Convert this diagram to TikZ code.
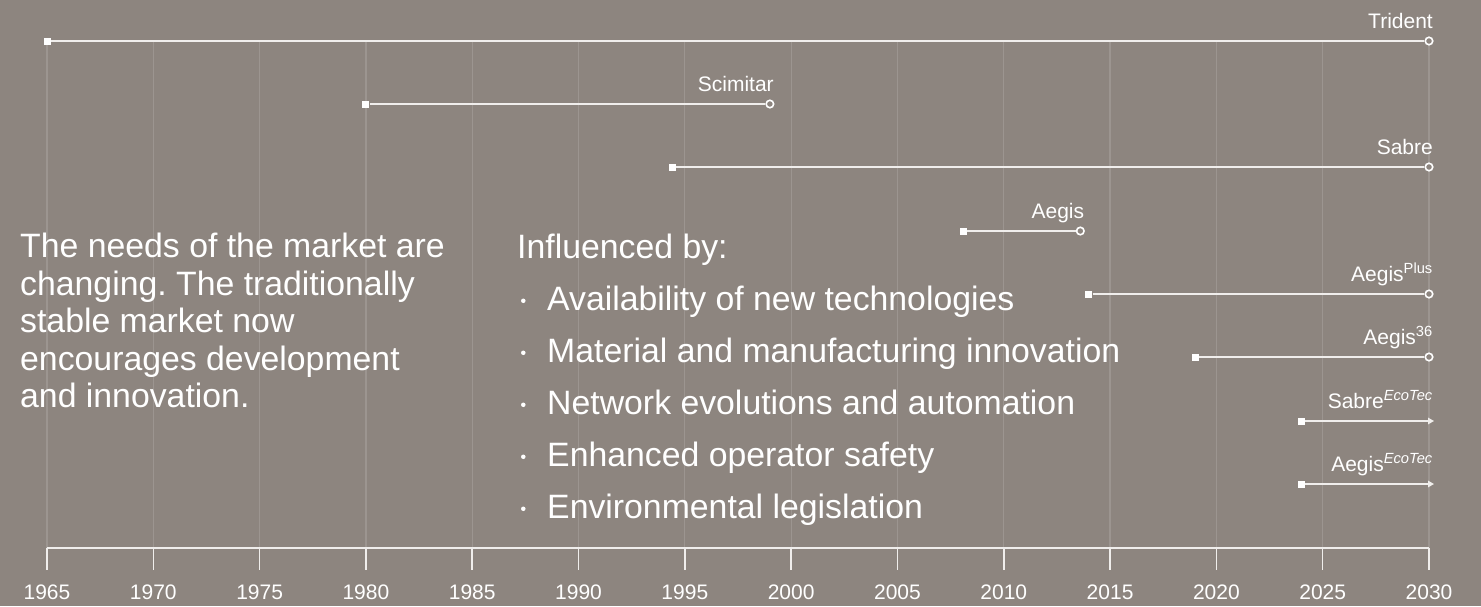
\documentclass[tikz,border=0pt]{standalone}
\usepackage{fontspec}
\setmainfont{Liberation Sans}
\usetikzlibrary{arrows.meta}
\frenchspacing

\definecolor{bgtaupe}{RGB}{141,133,127}
\definecolor{gridtaupe}{RGB}{156,149,144}
\definecolor{barwhite}{RGB}{240,238,236}

% x position (in px) of a year on the time axis
\newcommand{\yrx}[1]{(47+((#1)-1965)*21.2615)}

\begin{document}
\begin{tikzpicture}[x=1pt,y=-1pt]
\tikzstyle{gridline}=[draw=gridtaupe,line width=1.2pt]
\tikzstyle{barline}=[draw=barwhite,line width=1.3pt]
\tikzstyle{axisline}=[draw=barwhite,line width=1.5pt]
\tikzstyle{startmark}=[rectangle,fill=white,minimum size=7pt,inner sep=0pt]
\tikzstyle{endmark}=[circle,draw=white,fill=bgtaupe,line width=1.6pt,minimum size=7.5pt,inner sep=0pt]
\tikzstyle{dotmark}=[circle,fill=white,minimum size=4.5pt,inner sep=0pt]
\tikzstyle{barlabel}=[text=white,font=\fontsize{21}{24}\selectfont,anchor=base east,inner sep=0pt]
\tikzstyle{yearlabel}=[text=white,font=\fontsize{21}{24}\selectfont,anchor=base,inner sep=0pt]
\tikzstyle{bodytext}=[text=white,font=\fontsize{33.8}{40}\selectfont,anchor=base west,inner sep=0pt]

\useasboundingbox (0,0) rectangle (1481,606);
\fill[bgtaupe] (0,0) rectangle (1481,606);

% grid, axis and years
\foreach \yr in {1965,1970,...,2030}
{
   \coordinate (grid\yr) at ({\yrx{\yr}},41);
   \coordinate (tick\yr) at ({\yrx{\yr}},548);
   \coordinate (tickend\yr) at ({\yrx{\yr}},570);
   \draw[gridline] (grid\yr) -- (tick\yr);
   \draw[axisline] (tick\yr) -- (tickend\yr);
   \node[yearlabel] (year\yr) at ({\yrx{\yr}},599) {\yr};
}
\draw[axisline] (tick1965) -- (tick2030);

% product bars
\foreach \nm/\from/\to/\row/\txt in {trident/1965/2030/41/Trident,
  scimitar/1980/1999/104/Scimitar,
  sabre/1994.4/2030/167/Sabre,
  aegis/2008.1/2013.6/231/Aegis,
  aegisplus/2014/2030/294/Aegis\textsuperscript{Plus},
  aegisthirtysix/2019/2030/357/Aegis\textsuperscript{36}}
{
   \node[startmark] (\nm-start) at ({\yrx{\from}},\row) {};
   \node[endmark] (\nm-end) at ({\yrx{\to}},\row) {};
   \draw[barline] (\nm-start) -- (\nm-end);
   \node[barlabel] (\nm-label) at ([xshift=4pt,yshift=13pt]\nm-end.center) {\txt};
}
\foreach \nm/\row/\txt in {sabreeco/421/Sabre\textsuperscript{\itshape EcoTec},
  aegiseco/484/Aegis\textsuperscript{\itshape EcoTec}}
{
   \node[startmark] (\nm-start) at ({\yrx{2024}},\row) {};
   \coordinate (\nm-end) at (1434,\row);
   \draw[barline,-{Triangle[length=6pt,width=6.5pt]}] (\nm-start) -- (\nm-end);
   \node[barlabel] (\nm-label) at ([xshift=-1pt,yshift=13pt]\nm-end) {\txt};
}

% text
\foreach \ln [count=\i] in {The needs of the market are,changing. The traditionally,stable market now,encourages development,and innovation.}
{
   \node[bodytext] (intro\i) at (20,{257.7+(\i-1)*37.5}) {\ln};
}
\node[bodytext] (influence) at (517,258.3) {Influenced by:};
\foreach \txt [count=\i] in {Availability of new technologies,Material and manufacturing innovation,Network evolutions and automation,Enhanced operator safety,Environmental legislation}
{
   \node[dotmark] (bullet\i) at (523.3,{300.8+(\i-1)*52}) {};
   \node[bodytext] (item\i) at (547,{310.8+(\i-1)*52}) {\txt};
}
\end{tikzpicture}
\end{document}
